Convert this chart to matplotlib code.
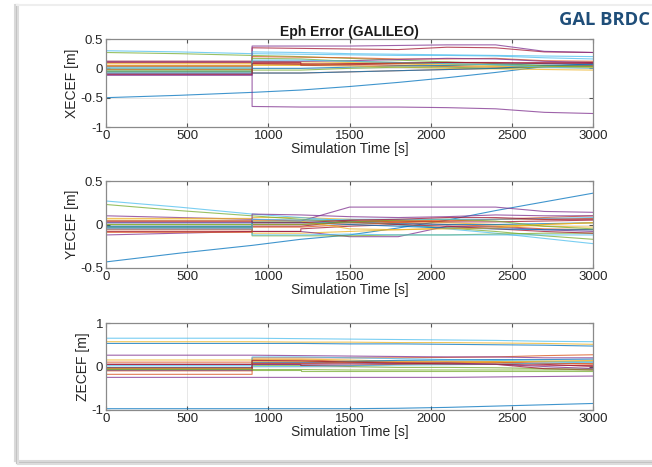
import numpy as np
import matplotlib.pyplot as plt
from matplotlib.lines import Line2D

plt.rcParams['font.family'] = ['Liberation Sans', 'DejaVu Sans']

# sample times [s] (900 and 1200 repeated: ephemeris switch steps)
t = [0, 450, 900, 900, 1200, 1200, 1500, 1800, 2100, 2400, 2700, 3000]

# MATLAB default colour order
colors = ['#0072BD', '#D95319', '#EDB120', '#7E2F8E', '#77AC30', '#4DBEEE', '#A2142F']

x_err = [
    [-0.50, -0.46, -0.41, -0.41, -0.37, -0.37, -0.31, -0.24, -0.16, -0.07, 0.03, 0.08],
    [0.05, 0.05, 0.05, 0.08, 0.08, 0.08, 0.06, 0.05, 0.03, 0.02, 0.03, 0.04],
    [0.08, 0.08, 0.08, 0.12, 0.11, 0.11, 0.10, 0.08, 0.05, 0.03, 0.02, 0.01],
    [-0.10, -0.10, -0.10, -0.65, -0.66, -0.66, -0.66, -0.66, -0.67, -0.69, -0.75, -0.77],
    [0.27, 0.25, 0.22, 0.22, 0.20, 0.20, 0.17, 0.14, 0.11, 0.08, 0.05, 0.03],
    [0.30, 0.28, 0.25, 0.25, 0.24, 0.24, 0.23, 0.22, 0.22, 0.21, 0.18, 0.16],
    [0.03, 0.03, 0.03, 0.35, 0.34, 0.34, 0.33, 0.32, 0.36, 0.35, 0.28, 0.27],
    [-0.05, -0.05, -0.05, 0.00, 0.00, 0.00, 0.02, 0.04, 0.05, 0.07, 0.08, 0.07],
    [-0.02, -0.02, -0.02, -0.08, -0.08, -0.08, -0.06, -0.04, -0.02, 0.00, 0.03, 0.05],
    [0.00, 0.00, 0.00, 0.05, 0.05, 0.05, 0.04, 0.02, 0.00, -0.01, -0.02, -0.03],
    [-0.12, -0.12, -0.12, 0.38, 0.38, 0.38, 0.38, 0.39, 0.40, 0.40, 0.29, 0.27],
    [-0.06, -0.06, -0.06, -0.03, -0.03, -0.03, 0.00, 0.02, 0.02, 0.00, 0.02, 0.03],
    [0.02, 0.02, 0.02, 0.28, 0.27, 0.27, 0.25, 0.24, 0.23, 0.22, 0.21, 0.20],
    [0.10, 0.10, 0.10, 0.10, 0.10, 0.05, 0.06, 0.08, 0.10, 0.10, 0.08, 0.08],
    [-0.08, -0.08, -0.08, -0.08, -0.08, -0.08, -0.06, -0.04, -0.02, 0.00, 0.05, 0.06],
    [0.12, 0.12, 0.12, 0.20, 0.19, 0.19, 0.18, 0.16, 0.16, 0.17, 0.13, 0.12],
    [0.04, 0.04, 0.04, 0.06, 0.06, 0.06, 0.08, 0.08, 0.07, 0.05, 0.03, 0.02],
    [0.12, 0.12, 0.12, 0.12, 0.12, 0.12, 0.13, 0.15, 0.17, 0.16, 0.12, 0.10],
    [-0.03, -0.03, -0.03, 0.17, 0.16, 0.16, 0.12, 0.10, 0.08, 0.06, 0.04, 0.03],
    [0.00, 0.00, 0.00, 0.14, 0.14, 0.14, 0.12, 0.10, 0.08, 0.06, 0.02, 0.00],
    [-0.10, -0.10, -0.10, 0.08, 0.07, 0.07, 0.08, 0.09, 0.10, 0.09, 0.10, 0.10],
]

y_err = [
    [-0.43, -0.33, -0.24, -0.24, -0.17, -0.17, -0.12, -0.04, 0.05, 0.16, 0.26, 0.36],
    [0.03, 0.03, 0.03, 0.05, 0.05, 0.05, 0.04, 0.02, 0.00, -0.02, -0.05, -0.06],
    [0.05, 0.05, 0.05, 0.08, 0.08, 0.08, 0.06, 0.04, 0.02, 0.00, -0.02, -0.03],
    [0.10, 0.08, 0.06, 0.06, 0.04, 0.04, 0.20, 0.20, 0.20, 0.20, 0.15, 0.14],
    [0.23, 0.16, 0.10, 0.10, 0.06, 0.06, 0.03, 0.00, -0.04, -0.08, -0.13, -0.17],
    [0.27, 0.20, 0.12, 0.12, 0.08, 0.08, 0.04, 0.00, -0.05, -0.10, -0.16, -0.22],
    [-0.05, -0.05, -0.05, -0.02, -0.02, -0.02, 0.04, 0.04, 0.03, 0.03, 0.04, 0.05],
    [-0.02, -0.02, -0.02, 0.03, 0.03, 0.03, 0.02, 0.01, 0.00, 0.00, 0.01, 0.02],
    [-0.06, -0.06, -0.06, -0.03, -0.03, -0.03, 0.00, 0.02, 0.04, 0.06, 0.08, 0.10],
    [0.00, 0.00, 0.00, -0.10, -0.10, -0.10, -0.08, -0.06, -0.04, -0.02, 0.00, 0.02],
    [-0.12, -0.10, -0.08, -0.08, -0.08, -0.08, -0.14, -0.14, -0.02, -0.03, -0.06, -0.08],
    [-0.03, -0.03, -0.03, -0.13, -0.13, -0.13, -0.13, -0.12, -0.12, -0.11, -0.10, -0.10],
    [0.02, 0.02, 0.02, -0.12, -0.12, -0.12, -0.11, -0.12, -0.12, -0.12, -0.12, -0.12],
    [-0.08, -0.08, -0.08, -0.08, -0.08, -0.05, -0.02, 0.00, -0.02, -0.05, -0.08, -0.10],
    [-0.03, -0.03, -0.03, 0.02, 0.02, 0.02, 0.00, -0.02, -0.04, -0.05, -0.06, -0.06],
    [-0.09, -0.09, -0.09, 0.00, 0.00, 0.00, 0.02, 0.04, 0.05, 0.06, 0.06, 0.07],
    [0.07, 0.07, 0.07, 0.04, 0.04, 0.04, -0.05, -0.06, -0.05, -0.04, 0.00, 0.02],
    [0.02, 0.02, 0.02, 0.12, 0.11, 0.11, 0.09, 0.08, 0.09, 0.11, 0.10, 0.10],
    [0.00, 0.00, 0.00, 0.00, 0.00, 0.00, 0.03, 0.05, 0.06, 0.04, -0.02, -0.05],
    [-0.05, -0.05, -0.05, 0.06, 0.05, 0.05, 0.06, 0.06, 0.06, 0.06, 0.07, 0.08],
    [0.04, 0.04, 0.04, 0.02, 0.02, 0.02, 0.05, 0.06, 0.08, 0.08, 0.06, 0.06],
]

z_err = [
    [-0.97, -0.97, -0.97, -0.97, -0.97, -0.97, -0.97, -0.96, -0.94, -0.91, -0.88, -0.85],
    [-0.18, -0.18, -0.18, 0.20, 0.20, 0.20, 0.20, 0.20, 0.21, 0.22, 0.25, 0.27],
    [0.57, 0.57, 0.57, 0.57, 0.56, 0.56, 0.56, 0.55, 0.55, 0.54, 0.53, 0.51],
    [0.26, 0.26, 0.26, 0.26, 0.25, 0.25, 0.24, 0.23, 0.22, 0.22, 0.20, 0.20],
    [0.00, 0.00, 0.00, -0.08, -0.08, -0.10, -0.10, -0.10, -0.10, -0.10, -0.10, -0.10],
    [0.65, 0.65, 0.65, 0.65, 0.64, 0.64, 0.63, 0.62, 0.61, 0.60, 0.58, 0.57],
    [0.05, 0.05, 0.05, 0.08, 0.08, 0.08, 0.10, 0.10, 0.10, 0.10, 0.05, 0.00],
    [0.53, 0.53, 0.53, 0.53, 0.53, 0.53, 0.52, 0.52, 0.51, 0.50, 0.49, 0.47],
    [0.10, 0.10, 0.10, 0.15, 0.15, 0.15, 0.12, 0.10, 0.10, 0.10, 0.08, 0.05],
    [0.15, 0.15, 0.15, 0.17, 0.17, 0.17, 0.15, 0.12, 0.12, 0.12, 0.12, 0.12],
    [-0.25, -0.25, -0.25, -0.25, -0.25, -0.25, -0.25, -0.25, -0.25, -0.24, -0.23, -0.22],
    [-0.05, -0.05, -0.05, 0.02, 0.02, 0.02, 0.00, -0.02, -0.02, -0.03, -0.05, -0.06],
    [-0.02, -0.02, -0.02, 0.22, 0.22, 0.22, 0.20, 0.18, 0.16, 0.14, 0.12, 0.10],
    [0.05, 0.05, 0.05, 0.05, 0.05, 0.02, 0.02, 0.05, 0.06, 0.05, -0.05, -0.08],
    [-0.08, -0.08, -0.08, 0.10, 0.10, 0.10, 0.12, 0.14, 0.15, 0.16, 0.16, 0.17],
    [-0.10, -0.10, -0.10, 0.07, 0.07, 0.07, 0.06, 0.05, 0.05, 0.06, 0.07, 0.07],
    [-0.05, -0.05, -0.05, 0.12, 0.12, 0.12, 0.10, 0.08, 0.08, 0.10, 0.12, 0.14],
    [-0.08, -0.08, -0.08, 0.05, 0.05, 0.05, 0.06, 0.07, 0.08, 0.05, 0.00, -0.05],
    [-0.07, -0.07, -0.07, -0.07, -0.07, -0.07, -0.08, -0.08, -0.08, -0.08, -0.08, -0.08],
    [0.02, 0.02, 0.02, 0.00, 0.00, 0.00, 0.02, 0.03, 0.04, 0.05, 0.08, 0.10],
    [-0.03, -0.03, -0.03, 0.14, 0.13, 0.13, 0.10, 0.08, 0.06, 0.05, 0.03, 0.02],
]

panels = [
    (x_err, 'XECEF [m]', (-1, 0.5), [-1, -0.5, 0, 0.5], ['-1', '-0.5', '0', '0.5']),
    (y_err, 'YECEF [m]', (-0.5, 0.5), [-0.5, 0, 0.5], ['-0.5', '0', '0.5']),
    (z_err, 'ZECEF [m]', (-1, 1), [-1, 0, 1], ['-1', '0', '1']),
]

fig = plt.figure(figsize=(6.52, 4.67), dpi=100)
W, H = 652, 467

# screenshot frame / shadow
for off, c in [(0, '#d9d9d9'), (1.5, '#c2c2c2'), (3, '#dcdcdc')]:
    fig.add_artist(Line2D([(15 + off) / W] * 2, [1 - 5 / H, 1 - (461 + off) / H], color=c, lw=1.5))
    fig.add_artist(Line2D([(15 + off) / W, 1], [1 - (461 + off) / H] * 2, color=c, lw=1.5))
fig.add_artist(Line2D([17 / W, 1], [1 - 5 / H, 1 - 5 / H], color='#eeeeee', lw=1.5))

tops = [39, 181, 323]
bottoms = [127, 268, 410]
left, right = 106, 593

for i, (data, ylab, ylim, yt, ytl) in enumerate(panels):
    ax = fig.add_axes([left / W, 1 - bottoms[i] / H, (right - left) / W,
                       (bottoms[i] - tops[i]) / H])
    for k, s in enumerate(data):
        ax.plot(t, s, color=colors[k % 7], lw=0.8, alpha=0.75)
    ax.set_xlim(0, 3000)
    ax.set_ylim(*ylim)
    ax.set_xticks([0, 500, 1000, 1500, 2000, 2500, 3000])
    ax.set_yticks(yt)
    ax.set_yticklabels(ytl)
    ax.grid(True, color='#e3e3e3', lw=0.6)
    ax.set_axisbelow(True)
    ax.tick_params(direction='in', top=True, right=True, length=3,
                   color='#555555', labelsize=9.5, labelcolor='#262626', pad=2)
    for sp in ax.spines.values():
        sp.set_color('#8a8a8a')
        sp.set_linewidth(0.9)
    ax.set_xlabel('Simulation Time [s]', fontsize=10, color='#262626', labelpad=0)
    ax.set_ylabel(ylab, fontsize=10, color='#262626', labelpad=1)
    if i == 0:
        ax.set_title('Eph Error (GALILEO)', fontsize=10, fontweight='bold',
                     color='#1a1a1a', pad=2)

fig.text(559 / W, 1 - 20 / H, 'GAL BRDC', fontsize=13.2, fontweight='bold',
         color='#1f4e79', family=['Open Sans', 'DejaVu Sans'], va='center', ha='left')

fig.savefig('out.png', dpi=100)
